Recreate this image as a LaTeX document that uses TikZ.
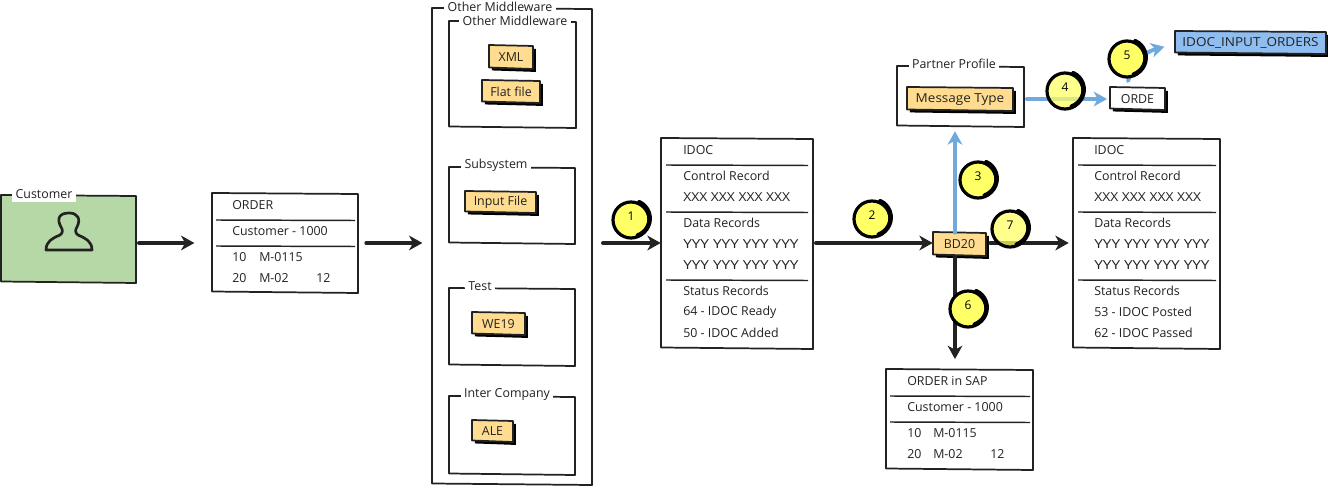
\documentclass[tikz,border=0pt]{standalone}
\usepackage{fontspec}
\setmainfont{Open Sans}
\newfontfamily\xcaps[FakeStretch=1.12]{Open Sans}
\newfontfamily\ycaps[FakeStretch=1.24]{Open Sans}
\newfontfamily\fcaps[FakeStretch=1.09]{Open Sans}
\usetikzlibrary{arrows.meta,shadows}
\definecolor{ink}{HTML}{222222}
\definecolor{grn}{HTML}{B5D8A6}
\definecolor{tagc}{HTML}{FFDC8F}
\definecolor{skyb}{HTML}{8FBDEF}
\definecolor{flow}{HTML}{6FA9DE}
\definecolor{yel}{HTML}{FFFF66}
\newcommand\lblfont{\fontsize{9.3}{11}\selectfont}
\tikzset{
 panel/.style={draw=ink,line width=1.3pt,line join=round},
 tagbox/.style={panel,fill=tagc,general shadow={shadow xshift=2.2pt,shadow yshift=-2.2pt,fill=black}},
 whitetag/.style={tagbox,fill=white},
 bluetag/.style={tagbox,fill=skyb},
 holder/.style={inner sep=0pt,text=ink,font=\lblfont,yshift=-0.75pt},
 sep/.style={draw=ink,line width=1.1pt},
 lbl/.style={anchor=west,inner sep=0pt,text=ink,font=\lblfont,yshift=-0.75pt},
 ttl/.style={fill=white,inner sep=2.5pt,text=ink,font=\lblfont,yshift=-0.75pt},
 darrow/.style={draw=ink,line width=2.9pt,line cap=round,-{Stealth[length=10pt,width=11pt,inset=3pt]}},
 barrow/.style={draw=flow,line width=2.9pt,line cap=round,-{Stealth[length=10pt,width=11pt,inset=3pt]}},
 badgec/.style={circle,draw=black,line width=2.4pt,fill=yel,text opacity=1,minimum size=27pt,inner sep=0pt,font=\fontsize{9}{11}\selectfont},
 seethrough/.style={fill opacity=.75},
 rim/.style={draw=black,line width=3.4pt,line cap=round},
}
\newcommand\pbox[7]{% style,name,x1,y1,x2,y2,text
 \pgfmathsetmacro\pcx{(#3+#5)/2}\pgfmathsetmacro\pcy{(#4+#6)/2}%
 \pgfmathsetmacro\pw{(#5-#3)*0.75}\pgfmathsetmacro\ph{(#6-#4)*0.75}%
 \path[#1] (#3,#4) -- (#5,#4+1) -- (#5,#6+1) -- (#3,#6-0.5) -- cycle;
 \node[holder,minimum width=\pw pt,minimum height=\ph pt] (#2) at (\pcx,\pcy) {#7};}
\newcommand\badge[5][]{%
 \node[badgec,#1] (#2) at (#3,#4) {\raisebox{6pt}{#5}};
 \draw[rim] (#2.65) arc[start angle=65,end angle=-70,radius=13.5pt];}
\newcommand\txt[3]{\node[lbl] at (#1,#2) {#3};}
\newcommand\sepl[3]{\draw[sep] (#1,#3) -- (#2,#3+0.5);}
\begin{document}
\begin{tikzpicture}[x=0.75pt,y=-0.75pt]
\useasboundingbox (0,0) rectangle (1328,488);
% customer
\pbox{panel,fill=grn}{customer}{1}{195}{136}{282}{}
\node[ttl] (customertitle) at (44,193) {Customer};
\draw[ink,line width=2pt,line join=round] (46,250) .. controls (46,241) and (53,238) .. (60,235) .. controls (63,233) and (63,230) .. (61,227) .. controls (56,218) and (60,213) .. (69,213) .. controls (78,213) and (81,219) .. (77,227) .. controls (75,230) and (75,233) .. (78,235) .. controls (85,238) and (92,241) .. (92,250) -- cycle;
% order
\pbox{panel,fill=white}{order}{212}{193}{358}{292}{}
\txt{232}{204}{ORDER}\sepl{216}{355}{220}
\txt{232}{230}{Customer - 1000}\sepl{216}{355}{246}
\txt{232}{256}{10}\txt{259}{256}{M-0115}
\txt{232}{277}{20}\txt{259}{277}{M-02}\txt{316}{277}{12}
% middleware
\pbox{panel,fill=white}{outer}{432}{8}{592}{484}{}
\node[ttl] (outertitle) at (500,6) {Other Middleware};
\pbox{panel}{mid}{449}{21}{576}{127}{}
\node[ttl] (midtitle) at (515,20) {Other Middleware};
\pbox{tagbox}{xml}{489}{45}{533}{68}{XML}
\pbox{tagbox}{flat}{482}{80}{540}{102}{Flat file}
\pbox{panel}{subsys}{449}{167}{575}{243}{}
\node[ttl] (subsystitle) at (496,164) {Subsystem};
\pbox{tagbox}{input}{465}{191}{536}{212}{Input File}
\pbox{panel}{testb}{449}{288}{575}{365}{}
\node[ttl] (testtitle) at (480,285) {Test};
\pbox{tagbox}{we}{472}{312}{525}{334}{WE19}
\pbox{panel}{inter}{449}{396}{575}{474}{}
\node[ttl] (intertitle) at (507,393) {Inter Company};
\pbox{tagbox}{ale}{472}{420}{513}{441}{ALE}
% idoc left
\pbox{panel,fill=white}{idocl}{661}{138}{813}{348}{}
\txt{683}{149}{IDOC}\sepl{666}{808}{165}
\txt{683}{175}{Control Record}\txt{683}{196}{\xcaps XXX XXX XXX XXX}\sepl{666}{808}{212}
\txt{683}{222}{Data Records}\txt{683}{243}{\ycaps YYY YYY YYY YYY}\txt{683}{264}{\ycaps YYY YYY YYY YYY}\sepl{666}{808}{280}
\txt{683}{290}{Status Records}\txt{683}{311}{64 - IDOC Ready}\txt{683}{332}{50 - IDOC Added}
% idoc right
\pbox{panel,fill=white}{idocr}{1073}{138}{1220}{348}{}
\txt{1094}{149}{IDOC}\sepl{1078}{1216}{165}
\txt{1094}{175}{Control Record}\txt{1094}{196}{\xcaps XXX XXX XXX XXX}\sepl{1078}{1216}{212}
\txt{1094}{222}{Data Records}\txt{1094}{243}{\ycaps YYY YYY YYY YYY}\txt{1094}{264}{\ycaps YYY YYY YYY YYY}\sepl{1078}{1216}{280}
\txt{1094}{290}{Status Records}\txt{1094}{311}{53 - IDOC Posted}\txt{1094}{332}{62 - IDOC Passed}
% sap
\pbox{panel,fill=white}{sap}{886}{369}{1033}{469}{}
\txt{907}{380}{ORDER in SAP}\sepl{890}{1030}{396}
\txt{907}{406}{Customer - 1000}\sepl{890}{1030}{422}
\txt{907}{432}{10}\txt{933}{432}{M-0115}
\txt{907}{453}{20}\txt{933}{453}{M-02}\txt{990}{453}{12}
% partner
\pbox{panel}{partner}{897}{66}{1024}{126}{}
\node[ttl] (partnertitle) at (954,63) {Partner Profile};
\pbox{tagbox}{msg}{907}{87}{1013}{110}{\fcaps Message Type}
\pbox{whitetag}{orde}{1110}{87}{1165}{109}{ORDE}
\pbox{bluetag}{fm}{1175}{31}{1326}{53}{\fcaps IDOC\_INPUT\_ORDERS}
\pbox{tagbox}{bd}{933}{232}{986}{255}{BD20}
% connectors
\coordinate (lane) at (0,243);
\coordinate (vlane) at (955,0);
\draw[darrow,shorten <=2pt,shorten >=13pt] (customer.east |- lane) -- (order.west |- lane);
\draw[darrow,shorten <=6pt,shorten >=7pt] (order.east |- lane) -- (outer.west |- lane);
\draw[darrow,shorten <=8pt] (outer.east |- lane) -- (idocl.west |- lane);
\draw[darrow,shorten <=2pt] (idocl.east |- lane) -- (bd.west |- lane);
\draw[darrow,shorten <=3pt,shorten >=3pt] (bd.east |- lane) -- (idocr.west |- lane);
\draw[darrow,shorten <=1pt,shorten >=8pt] (bd.south -| vlane) -- (sap.north -| vlane);
\draw[barrow,shorten >=3pt] (bd.north -| vlane) -- (partner.south -| vlane);
\coordinate (row4) at (0,99);
\draw[barrow,shorten <=2pt,shorten >=2pt] (partner.east |- row4) -- (orde.west |- row4);
\coordinate (start5) at (1128,81);
\coordinate (row5) at (0,44);
\draw[barrow,shorten >=8pt] (start5) .. controls (1135,60) and (1145,52) .. (fm.west |- row5);
% badges
\badge{b1}{631}{220}{1}
\badge{b2}{872}{219}{2}
\badge{b3}{978}{180}{3}
\badge[seethrough]{b4}{1065}{91}{4}
\badge{b5}{1127}{59}{5}
\badge{b6}{968}{309}{6}
\badge[seethrough]{b7}{1010}{229}{7}
\end{tikzpicture}
\end{document}
